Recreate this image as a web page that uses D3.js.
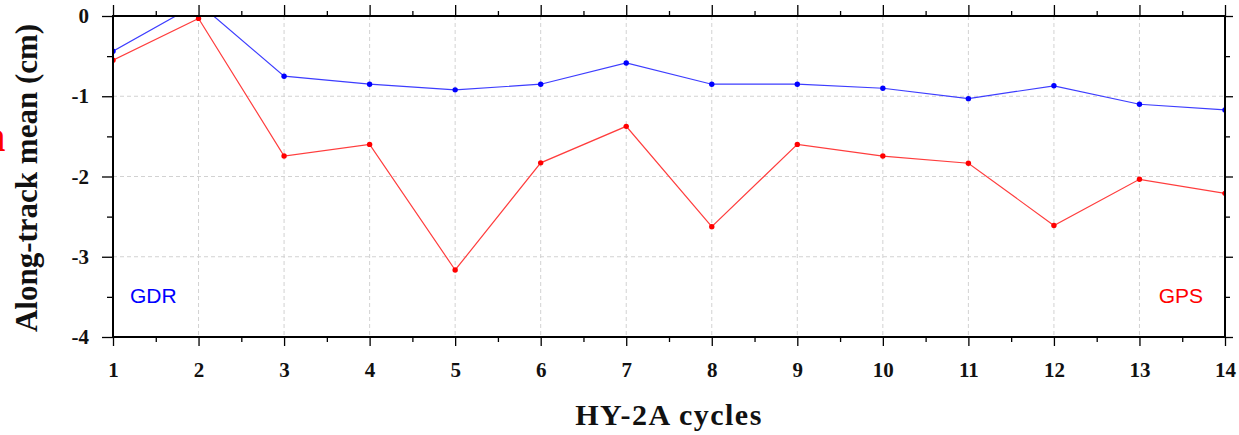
<!DOCTYPE html>
<html>
<head>
<meta charset="utf-8">
<script src="https://cdn.jsdelivr.net/npm/d3@7"></script>
<style>
  html, body { margin: 0; padding: 0; background: #fff; }
  svg { display: block; }
</style>
</head>
<body>
<svg id="chart" width="1239" height="435"></svg>
<script>
// Along-track mean per HY-2A cycle, two orbit solutions
const cycles = [1, 2, 3, 4, 5, 6, 7, 8, 9, 10, 11, 12, 13, 14];
const gdrValues = [-0.44, 0.16, -0.75, -0.85, -0.92, -0.85, -0.585, -0.85, -0.85, -0.90, -1.03, -0.87, -1.10, -1.17];
const gpsValues = [-0.55, -0.03, -1.745, -1.60, -3.165, -1.83, -1.375, -2.625, -1.60, -1.745, -1.835, -2.61, -2.035, -2.21];
const xTicks = [1, 2, 3, 4, 5, 6, 7, 8, 9, 10, 11, 12, 13, 14];
const yTicks = [0, -1, -2, -3, -4];
const seriesNames = ["GDR", "GPS"];

(function () {
const svg = d3.select("#chart");
const margin = { left: 113, top: 16, right: 14, bottom: 98 };
const W = 1239, H = 435;
const iw = W - margin.left - margin.right;
const ih = H - margin.top - margin.bottom;

const x = d3.scaleLinear().domain([1, 14]).range([0, iw]);
const y = d3.scaleLinear().domain([-4, 0]).range([ih, 0]);

const g = svg.append("g").attr("transform", `translate(${margin.left},${margin.top})`);

svg.append("defs").append("clipPath").attr("id", "plotClip")
  .append("rect").attr("x", 0).attr("y", 0).attr("width", iw).attr("height", ih);

// dashed grid at the inner major ticks
g.append("g").selectAll("line").data(xTicks.slice(1, -1)).join("line")
  .attr("x1", d => x(d)).attr("x2", d => x(d)).attr("y1", 0).attr("y2", ih)
  .attr("stroke", "#d2d2d2").attr("stroke-width", 1).attr("stroke-dasharray", "4,3");
g.append("g").selectAll("line").data(yTicks.slice(1, -1)).join("line")
  .attr("y1", d => y(d)).attr("y2", d => y(d)).attr("x1", 0).attr("x2", iw)
  .attr("stroke", "#d2d2d2").attr("stroke-width", 1).attr("stroke-dasharray", "4,3");

// series
const series = [
  { name: seriesNames[0], values: gdrValues, color: "#0000ff", line: "#3d3dff" },
  { name: seriesNames[1], values: gpsValues, color: "#ff0000", line: "#ff3d3d" }
];
const lineGen = d3.line().x(d => x(d[0])).y(d => y(d[1]));
const plot = g.append("g").attr("clip-path", "url(#plotClip)");
series.forEach(s => {
  const pts = cycles.map((c, i) => [c, s.values[i]]);
  plot.append("path").datum(pts)
    .attr("d", lineGen).attr("fill", "none")
    .attr("stroke", s.line).attr("stroke-width", 1.2);
  plot.append("g").selectAll("circle").data(pts).join("circle")
    .attr("cx", d => x(d[0])).attr("cy", d => y(d[1])).attr("r", 2.7)
    .attr("fill", s.color);
});

// axes: major ticks every unit, minor every half unit, on all four sides
const tickFont = "bold 21px 'Liberation Serif', 'DejaVu Serif', serif";
const minorX = d3.range(1.5, 14, 1);
const minorY = d3.range(-3.5, 0, 1);
const plain = d => String(d);

function styleAxis(sel) {
  sel.select(".domain").remove();
  sel.selectAll(".tick line").attr("stroke", "#000").attr("stroke-width", 1.3);
}

const bottomAxis = g.append("g").attr("transform", `translate(0,${ih})`)
  .call(d3.axisBottom(x).tickValues(xTicks).tickFormat(plain).tickSize(9).tickPadding(16));
styleAxis(bottomAxis);
bottomAxis.selectAll("text").style("font", tickFont).attr("fill", "#111");
g.append("g").attr("transform", `translate(0,${ih})`)
  .call(d3.axisBottom(x).tickValues(minorX).tickFormat("").tickSize(5)).call(styleAxis);

g.append("g")
  .call(d3.axisTop(x).tickValues(xTicks).tickFormat("").tickSize(11)).call(styleAxis);
g.append("g").call(d3.axisTop(x).tickValues(minorX).tickFormat("").tickSize(5)).call(styleAxis);

const leftAxis = g.append("g")
  .call(d3.axisLeft(y).tickValues(yTicks).tickFormat(plain).tickSize(11).tickPadding(13));
styleAxis(leftAxis);
leftAxis.selectAll("text").style("font", tickFont).attr("fill", "#111");
g.append("g").call(d3.axisLeft(y).tickValues(minorY).tickFormat("").tickSize(6)).call(styleAxis);

g.append("g").attr("transform", `translate(${iw},0)`)
  .call(d3.axisRight(y).tickValues(yTicks).tickFormat("").tickSize(8)).call(styleAxis);
g.append("g").attr("transform", `translate(${iw},0)`)
  .call(d3.axisRight(y).tickValues(minorY).tickFormat("").tickSize(5)).call(styleAxis);

// frame
g.append("rect").attr("x", 0).attr("y", 0).attr("width", iw).attr("height", ih)
  .attr("fill", "none").attr("stroke", "#000").attr("stroke-width", 2);

// series labels inside the plot
const labelFont = "21px 'Liberation Sans', Arial, sans-serif";
g.append("text").attr("x", 17).attr("y", y(-3.58))
  .style("font", labelFont).attr("fill", "#0000ff")
  .text(seriesNames[0]);
g.append("text").attr("x", iw - 22).attr("y", y(-3.58))
  .attr("text-anchor", "end")
  .style("font", labelFont).attr("fill", "#ff0000")
  .text(seriesNames[1]);

// axis titles
const titleFont = "bold 30px 'Liberation Serif', 'DejaVu Serif', serif";
svg.append("text")
  .attr("transform", `translate(${margin.left + iw / 2},425)`)
  .attr("text-anchor", "middle")
  .style("font", titleFont).style("letter-spacing", "1.5px").attr("fill", "#111")
  .text("HY-2A cycles");
svg.append("text")
  .attr("transform", `translate(37,178) rotate(-90)`)
  .attr("text-anchor", "middle")
  .style("font", "bold 31px 'Liberation Serif', 'DejaVu Serif', serif").attr("fill", "#111")
  .text("Along-track mean (cm)");

// panel mark at the left edge
svg.append("text").attr("x", -19).attr("y", 151)
  .style("font", "bold 44px 'Liberation Serif', serif").attr("fill", "#ff0000")
  .text("n");
})();
</script>
</body>
</html>
